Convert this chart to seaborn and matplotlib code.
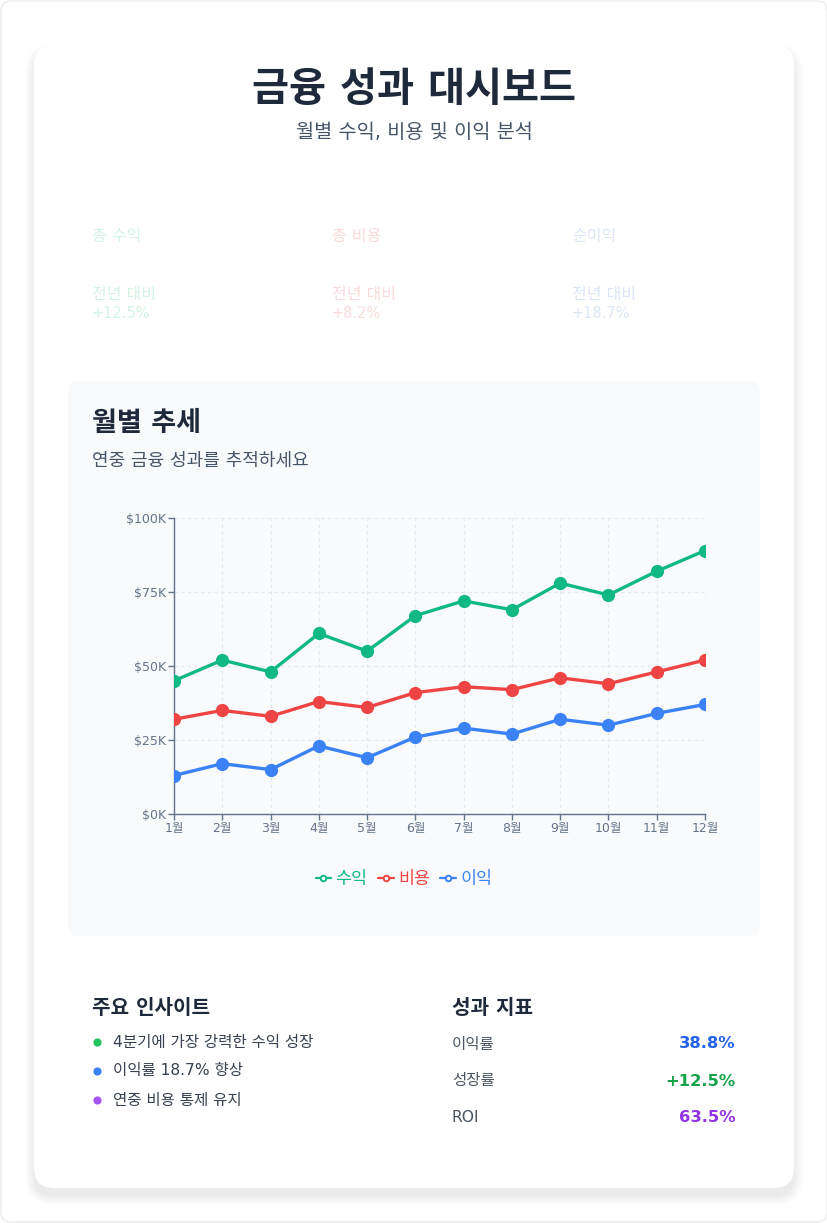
import pandas as pd
import seaborn as sns
import matplotlib.pyplot as plt
from matplotlib.patches import FancyBboxPatch
from matplotlib.lines import Line2D
from matplotlib.ticker import FuncFormatter

# data (thousands of dollars)
months = list(range(1, 13))
month_labels = [f'{m}월' for m in months]
revenue = [45, 52, 48, 61, 55, 67, 72, 69, 78, 74, 82, 89]
cost = [32, 35, 33, 38, 36, 41, 43, 42, 46, 44, 48, 52]
profit = [13, 17, 15, 23, 19, 26, 29, 27, 32, 30, 34, 37]
series_names = ['수익', '비용', '이익']
series_colors = ['#10b981', '#ef4444', '#3b82f6']

kpi_labels = ['총 수익', '총 비용', '순이익']
kpi_changes = ['+12.5%', '+8.2%', '+18.7%']
kpi_faint = ['#d3f3e3', '#fbdada', '#dbe6f8']

insights = ['4분기에 가장 강력한 수익 성장', '이익률 18.7% 향상', '연중 비용 통제 유지']
insight_colors = ['#22c55e', '#3b82f6', '#a855f7']
metric_labels = ['이익률', '성장률', 'ROI']
metric_values = ['38.8%', '+12.5%', '63.5%']
metric_colors = ['#2563eb', '#16a34a', '#9333ea']

df = pd.DataFrame({
    'month': months * 3,
    'value': [v * 1000 for v in revenue + cost + profit],
    'series': [s for s in series_names for _ in months],
})

sns.set_style('white')
plt.rcParams['font.family'] = ['DejaVu Sans', 'Noto Sans CJK KR']

W, H = 828, 1223
fig = plt.figure(figsize=(W / 100, H / 100), dpi=100, facecolor='white')

# background layer in pixel coordinates
bg = fig.add_axes([0, 0, 1, 1])
bg.set_xlim(0, W)
bg.set_ylim(H, 0)
bg.axis('off')

bg.add_patch(FancyBboxPatch((1, 1), W - 2, H - 2, boxstyle='round,pad=0,rounding_size=10',
                            fc='white', ec='#ececec', lw=1))
for i in range(10):
    bg.add_patch(FancyBboxPatch((34 - i, 45 - i + 8), 760 + 2 * i, 1143 + 2 * i,
                                boxstyle=f'round,pad=0,rounding_size={20 + i}',
                                fc='black', ec='none', alpha=0.008))
bg.add_patch(FancyBboxPatch((34, 45), 760, 1143, boxstyle='round,pad=0,rounding_size=20',
                            fc='white', ec='none'))
bg.add_patch(FancyBboxPatch((68, 381), 692, 555, boxstyle='round,pad=0,rounding_size=12',
                            fc='#f8fafc', ec='none'))

bg.text(414, 90, '금융 성과 대시보드', ha='center', va='center', fontsize=29,
        fontweight='bold', color='#1e293b')
bg.text(414, 132, '월별 수익, 비용 및 이익 분석', ha='center', va='center',
        fontsize=14.2, color='#475569')

for i, (lab, chg, col) in enumerate(zip(kpi_labels, kpi_changes, kpi_faint)):
    x = 92 + 240 * i
    bg.text(x, 236, lab, va='center', fontsize=11.5, color=col)
    bg.text(x, 294, '전년 대비', va='center', fontsize=11.5, color=col)
    bg.text(x, 313, chg, va='center', fontsize=10.5, color=col)

bg.text(92, 424, '월별 추세', va='center', fontsize=19.5, fontweight='bold', color='#1e293b')
bg.text(92, 461, '연중 금융 성과를 추적하세요', va='center', fontsize=13, color='#475569')

bg.text(92, 1009, '주요 인사이트', va='center', fontsize=14.5, fontweight='bold', color='#1e293b')
for i, (txt, col) in enumerate(zip(insights, insight_colors)):
    y = 1042 + 29 * i
    bg.scatter([97], [y], s=24, color=col, zorder=3)
    bg.text(113, y, txt, va='center', fontsize=11.2, color='#374151')

bg.text(452, 1009, '성과 지표', va='center', fontsize=14.5, fontweight='bold', color='#1e293b')
for i, (lab, val, col) in enumerate(zip(metric_labels, metric_values, metric_colors)):
    y = 1044 + 37 * i
    bg.text(452, y, lab, va='center', fontsize=11.2, color='#4b5563')
    bg.text(736, y, val, ha='right', va='center', fontsize=11.8, fontweight='bold', color=col)

# chart axes
ax = fig.add_axes([174 / W, (H - 814) / H, (705 - 174) / W, (814 - 518) / H])
ax.set_facecolor('none')
sns.lineplot(data=df, x='month', y='value', hue='series', hue_order=series_names,
             palette=series_colors, marker='o', markersize=9.5, markeredgewidth=0,
             linewidth=2.4, legend=False, ax=ax, zorder=3)

ax.set_xlim(1, 12)
ax.set_ylim(0, 100000)
ax.set_xticks(months, month_labels)
ax.set_yticks([0, 25000, 50000, 75000, 100000])
ax.yaxis.set_major_formatter(FuncFormatter(lambda v, p: f'${int(v / 1000)}K'))
ax.set_xlabel('')
ax.set_ylabel('')
ax.grid(True, linestyle=(0, (3, 3)), color='#e2e8f0', linewidth=0.8)
for side in ['top', 'right']:
    ax.spines[side].set_visible(False)
for side in ['left', 'bottom']:
    ax.spines[side].set_color('#64748b')
    ax.spines[side].set_linewidth(1)
ax.tick_params(axis='both', colors='#64748b', labelcolor='#64748b', labelsize=9,
               length=4, width=1, pad=1.5, left=True, bottom=True)

handles = [Line2D([0], [0], color=c, lw=1.6, marker='o', markersize=4,
                  markerfacecolor='white', markeredgewidth=1.4) for c in series_colors]
fig.legend(handles, series_names, loc='center', bbox_to_anchor=(404 / W, 1 - 879 / H),
           ncol=3, frameon=False, fontsize=12.5, handlelength=0.9, handletextpad=0.25,
           columnspacing=0.6, labelcolor='linecolor')

fig.savefig('out.png', dpi=100, facecolor='white')
